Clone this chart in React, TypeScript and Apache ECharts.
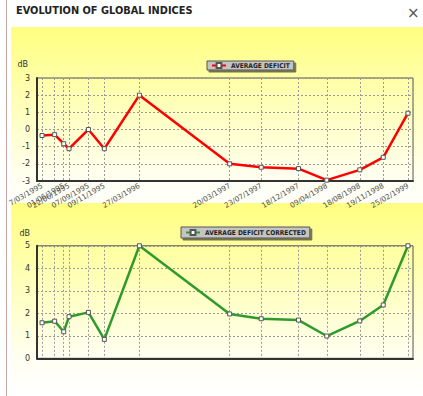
import React, { useEffect, useRef } from "react";
import * as echarts from "echarts";

const dates = ["1995-03-07","1995-04-26","1995-06-01","1995-06-22","1995-09-07","1995-11-09","1996-03-27","1997-03-20","1997-07-23","1997-12-18","1998-04-09","1998-08-18","1998-11-19","1999-02-25"];
const dateLabels = ["7/03/1995","26/04/1995","01/06/1995","22/06/1995","07/09/1995","09/11/1995","27/03/1996","20/03/1997","23/07/1997","18/12/1997","09/04/1998","18/08/1998","19/11/1998","25/02/1999"];
const deficit = [-0.35, -0.3, -0.83, -1.12, 0, -1.12, 2, -2, -2.2, -2.28, -2.95, -2.35, -1.62, 0.95];
const corrected = [1.58, 1.65, 1.18, 1.85, 2.04, 0.84, 5, 1.97, 1.76, 1.7, 0.99, 1.66, 2.37, 5];
const topTicks = [-3, 3, 1];
const bottomTicks = [0, 5, 1];

const FONT = "DejaVu Sans";
const LFONT = "'DejaVu Sans Condensed', 'Liberation Sans'";

export default function App() {
  const ref = useRef<HTMLDivElement>(null);
  useEffect(() => {
    document.body.style.margin = "0";
    const chart = echarts.init(ref.current!, null, { renderer: "svg" });
    const ts = dates.map((d) => +new Date(d + "T00:00:00Z"));
    const day = 86400000;
    const xMin = ts[0] - 20 * day;
    const xMax = ts[ts.length - 1] + 20 * day;
    const labelOf = (v: number) => {
      const i = ts.indexOf(v);
      return i >= 0 ? dateLabels[i] : "";
    };
    const splitX = { show: true, lineStyle: { color: "#9a9a9a", type: [2, 2] as any, width: 1 } };
    const splitY = { show: true, lineStyle: { color: "#9a9a9a", type: [2, 2] as any, width: 1 } };
    const lineAxisX = { show: true, onZero: false, lineStyle: { color: "#333", width: 2 } };
    const lineAxisY = { show: true, onZero: false, lineStyle: { color: "#333", width: 2 } };
    const legendBase = {
      orient: "horizontal",
      backgroundColor: "#c4c4c4",
      borderColor: "#555",
      borderWidth: 1,
      shadowColor: "rgba(0,0,0,0.55)",
      shadowBlur: 1,
      shadowOffsetX: 2,
      shadowOffsetY: 2,
      itemWidth: 14,
      itemHeight: 6,
      itemGap: 4,
      textStyle: { fontSize: 6.6, fontWeight: "bold", color: "#222", fontFamily: LFONT },
    };
    const option: any = {
      animation: false,
      textStyle: { fontFamily: FONT },
      graphic: [
        {
          type: "rect", z: -100, silent: true,
          shape: { x: 11, y: 27, width: 412, height: 176 },
          style: {
            fill: new echarts.graphic.LinearGradient(0, 0, 0, 1, [
              { offset: 0, color: "#ffff80" },
              { offset: 0.85, color: "#fffff0" },
              { offset: 1, color: "#fffffa" },
            ]),
          },
        },
        {
          type: "rect", z: -100, silent: true,
          shape: { x: 11, y: 203, width: 412, height: 190 },
          style: {
            fill: new echarts.graphic.LinearGradient(0, 0, 0, 1, [
              { offset: 0, color: "#ffff80" },
              { offset: 0.8, color: "#fffff0" },
              { offset: 1, color: "#ffffff" },
            ]),
          },
        },
        {
          type: "line", silent: true,
          shape: { x1: 6.5, y1: 0, x2: 6.5, y2: 396 },
          style: { stroke: "#c9aaa2", lineWidth: 1 },
        },
        {
          type: "text", left: 16, top: 5,
          style: { text: "EVOLUTION OF GLOBAL INDICES", font: `bold 9.8px ${FONT}`, fill: "#222" },
        },
        {
          type: "text", left: 407, top: 5,
          style: { text: "×", font: `15px ${FONT}`, fill: "#555" },
        },
      ],
      legend: [
        { ...legendBase, data: ["AVERAGE DEFICIT"], left: 207, top: 61, padding: [1, 4, 1, 4] },
        { ...legendBase, data: ["AVERAGE DEFICIT CORRECTED"], left: 181, top: 227, padding: [2, 4, 2, 4] },
      ],
      grid: [
        { left: 37, right: 10, top: 78, height: 103, show: true, borderColor: "#555", borderWidth: 1, backgroundColor: "transparent" },
        { left: 37, right: 10, top: 245.8, height: 112.5, show: true, borderColor: "#555", borderWidth: 1, backgroundColor: "transparent" },
      ],
      xAxis: [
        {
          gridIndex: 0, type: "value", min: xMin, max: xMax,
          axisLine: lineAxisX,
          axisTick: { show: false, customValues: ts },
          axisLabel: { customValues: ts, rotate: 30, fontSize: 7.3, color: "#505050", margin: 4, hideOverlap: false, showMinLabel: true, showMaxLabel: true, formatter: (v: number) => labelOf(v) },
          splitLine: splitX,
        },
        {
          gridIndex: 1, type: "value", min: xMin, max: xMax,
          axisLine: lineAxisX,
          axisTick: { show: false, customValues: ts },
          axisLabel: { show: false, customValues: ts },
          splitLine: splitX,
        },
      ],
      yAxis: [
        {
          gridIndex: 0, type: "value", min: topTicks[0], max: topTicks[1], interval: topTicks[2],
          name: "dB", nameLocation: "end", nameGap: 10,
          nameTextStyle: { fontSize: 8, color: "#333", align: "right", padding: [0, 9, 0, 0] },
          axisLine: lineAxisY,
          axisTick: { show: false },
          axisLabel: { fontSize: 8, color: "#333", margin: 7 },
          splitLine: splitY,
        },
        {
          gridIndex: 1, type: "value", min: bottomTicks[0], max: bottomTicks[1], interval: bottomTicks[2],
          name: "dB", nameLocation: "end", nameGap: 8,
          nameTextStyle: { fontSize: 8, color: "#333", align: "right", padding: [0, 7, 0, 0] },
          axisLine: lineAxisY,
          axisTick: { show: false },
          axisLabel: { fontSize: 8, color: "#333", margin: 7 },
          splitLine: splitY,
        },
      ],
      series: [
        {
          name: "AVERAGE DEFICIT", type: "line", xAxisIndex: 0, yAxisIndex: 0,
          data: ts.map((t, i) => [t, deficit[i]]),
          color: "#ff0000",
          lineStyle: { color: "#ff0000", width: 2.5 },
          symbol: "rect", symbolSize: 4, showAllSymbol: true,
          itemStyle: { color: "#ffffff", borderColor: "#555", borderWidth: 1 },
          z: 5,
        },
        {
          name: "AVERAGE DEFICIT CORRECTED", type: "line", xAxisIndex: 1, yAxisIndex: 1,
          data: ts.map((t, i) => [t, corrected[i]]),
          color: "#2e9a2e",
          lineStyle: { color: "#2e9a2e", width: 2.5 },
          symbol: "rect", symbolSize: 4, showAllSymbol: true,
          itemStyle: { color: "#ffffff", borderColor: "#555", borderWidth: 1 },
          z: 5,
        },
      ],
    };
    chart.setOption(option);
    return () => chart.dispose();
  }, []);
  return <div ref={ref} style={{ width: 423, height: 396 }} />;
}
